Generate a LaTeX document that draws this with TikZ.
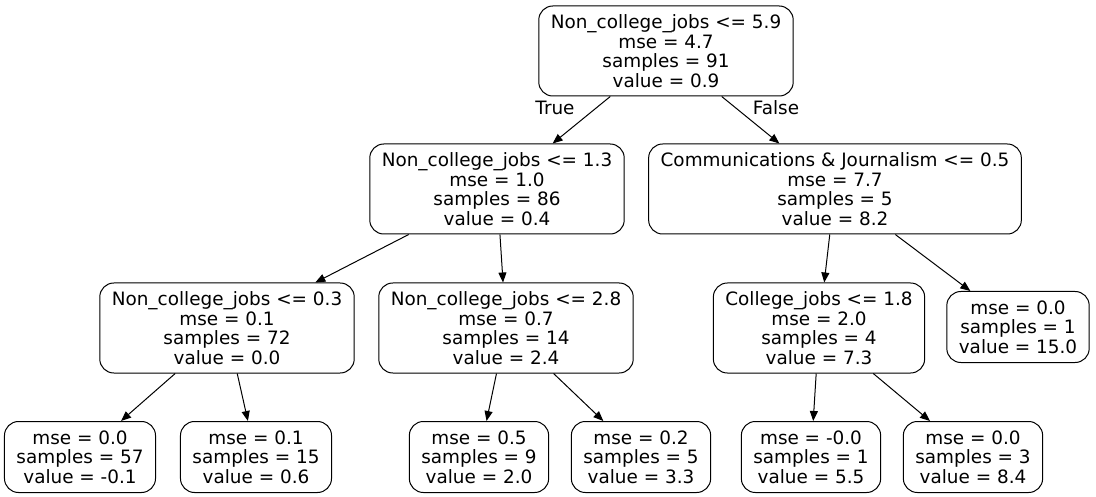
\documentclass[tikz,border=0pt]{standalone}
\usepackage{fontspec}
\setmainfont{DejaVu Sans}
\usetikzlibrary{arrows.meta}
\tikzset{
  tnode/.style={rectangle,rounded corners=14pt,draw=black,fill=white,line width=1pt,
                font=\fontsize{18.4}{19.5}\selectfont,align=center,
                inner xsep=12pt,inner ysep=4pt,minimum height=90pt},
  tleaf/.style={tnode,minimum height=71pt},
  tedge/.style={-{Triangle[length=10pt,width=8pt]},line width=1pt},
  elabel/.style={font=\fontsize{18.4}{19.5}\selectfont,inner sep=0pt},
}
\begin{document}
\begin{tikzpicture}[x=1pt,y=-1pt]
    \useasboundingbox (0,0) rectangle (1096,497);
    % split nodes
    \node[tnode] (root) at (666,51) {Non\_college\_jobs <= 5.9\\mse = 4.7\\samples = 91\\value = 0.9};
    \node[tnode] (nc13) at (497,189) {Non\_college\_jobs <= 1.3\\mse = 1.0\\samples = 86\\value = 0.4};
    \node[tnode] (comm) at (835,189) {Communications \& Journalism <= 0.5\\mse = 7.7\\samples = 5\\value = 8.2};
    \node[tnode] (nc03) at (227,328) {Non\_college\_jobs <= 0.3\\mse = 0.1\\samples = 72\\value = 0.0};
    \node[tnode] (nc28) at (506,328) {Non\_college\_jobs <= 2.8\\mse = 0.7\\samples = 14\\value = 2.4};
    \node[tnode] (cj18) at (819,328) {College\_jobs <= 1.8\\mse = 2.0\\samples = 4\\value = 7.3};
    % leaves
    \node[tleaf] (lf1) at (1018,327) {mse = 0.0\\samples = 1\\value = 15.0};
    \node[tleaf] (lf2) at (80,457) {mse = 0.0\\samples = 57\\value = -0.1};
    \node[tleaf] (lf3) at (256,457) {mse = 0.1\\samples = 15\\value = 0.6};
    \node[tleaf] (lf4) at (479,457) {mse = 0.5\\samples = 9\\value = 2.0};
    \node[tleaf] (lf5) at (641,457) {mse = 0.2\\samples = 5\\value = 3.3};
    \node[tleaf] (lf6) at (811,457) {mse = -0.0\\samples = 1\\value = 5.5};
    \node[tleaf] (lf7) at (973,457) {mse = 0.0\\samples = 3\\value = 8.4};
    % edges
    \draw[tedge] (root) -- (nc13);
    \draw[tedge] (root) -- (comm);
    \draw[tedge] (nc13) -- (nc03);
    \draw[tedge] (nc13) -- (nc28);
    \draw[tedge] (comm) -- (cj18);
    \draw[tedge] (comm) -- (lf1);
    \draw[tedge] (nc03) -- (lf2);
    \draw[tedge] (nc03) -- (lf3);
    \draw[tedge] (nc28) -- (lf4);
    \draw[tedge] (nc28) -- (lf5);
    \draw[tedge] (cj18) -- (lf6);
    \draw[tedge] (cj18) -- (lf7);
    \node[elabel] (ltrue) at (555,108) {True};
    \node[elabel] (lfalse) at (776,108) {False};
\end{tikzpicture}
\end{document}
